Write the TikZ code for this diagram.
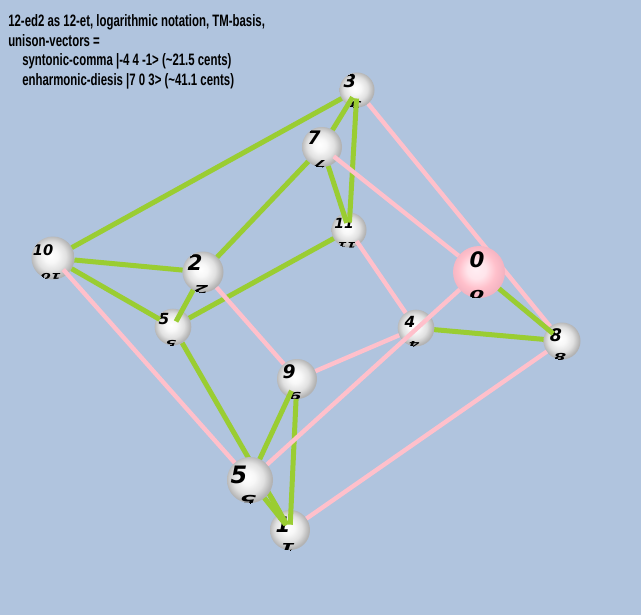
\documentclass[tikz,border=0pt]{standalone}
\usepackage{fontspec}
\usetikzlibrary{calc}
\newfontfamily\hdrfont[FakeStretch=0.69]{Liberation Sans}
\newfontfamily\numfont{DejaVu Sans}
\definecolor{bgc}{HTML}{B0C4DE}
\definecolor{grn}{HTML}{9ACD32}
\definecolor{pnk}{HTML}{FFC0CB}
\definecolor{pkin}{HTML}{FFEEF3}
\definecolor{pkout}{HTML}{F4B4C2}
\pgfdeclareradialshading{sphw}{\pgfpoint{-3bp}{3bp}}{color(0bp)=(white); color(8bp)=(white!97!black); color(17bp)=(white!88!black); color(25bp)=(white!70!black); color(50bp)=(white!64!black)}
\pgfdeclareradialshading{sphp}{\pgfpoint{-3bp}{3bp}}{color(0bp)=(pkin); color(9bp)=(pkin!80!pnk); color(18bp)=(pnk); color(25bp)=(pkout); color(50bp)=(pkout)}
\pgfdeclarelayer{bgl}
\pgfdeclarelayer{back}
\pgfsetlayers{bgl,back,main}
\tikzset{
  ball/.style n args={5}{circle, draw=none, inner sep=0pt, outer sep=0pt,
    minimum size=#2*1.5pt, shading=#5,
    path picture={
      \node[font=\numfont\bfseries\itshape\fontsize{#4}{#4}\selectfont, inner sep=0pt]
        at ([shift={(#3)}]path picture bounding box.center) {#1};
      \node[font=\numfont\bfseries\itshape\fontsize{#4}{#4}\selectfont, inner sep=0pt, rotate=180, yscale=0.55]
        at ([shift={(-2,{0.88*#2})}]path picture bounding box.center) {#1};
    }},
  gline/.style={grn, line width=3.75pt},
  pline/.style={pnk, line width=3.3pt},
  hdr/.style={anchor=base west, inner sep=0pt, font=\hdrfont\bfseries\fontsize{12.4}{13}\selectfont}
}
\begin{document}
\begin{tikzpicture}[x=0.75pt,y=-0.75pt]
\useasboundingbox (0,0) rectangle (641,615);
\begin{pgfonlayer}{bgl}
\fill[bgc] (0,0) rectangle (641,615);
\end{pgfonlayer}

\node[hdr] (t1) at (8,26.5) {12-ed2 as 12-et, logarithmic notation, TM-basis,};
\node[hdr] (t2) at (8,46) {unison-vectors =};
\node[hdr] (t3) at (22,65.5) {syntonic-comma |-4 4 -1> (\textasciitilde21.5 cents)};
\node[hdr] (t4) at (22,85) {enharmonic-diesis |7 0 3> (\textasciitilde41.1 cents)};

% spheres
\node[ball={3}{17.5}{-7,-9}{13.5}{sphw}] (n3) at (357,90) {};
\node[ball={7}{20}{-8,-9}{14}{sphw}] (n7) at (322,147) {};
\node[ball={11}{17.5}{-5,-7}{10.5}{sphw}] (n11) at (349,230) {};
\node[ball={10}{21.5}{-10,-8}{11}{sphw}] (n10) at (53,258) {};
\node[ball={2}{20.5}{-8,-9}{16}{sphw}] (n2) at (203,272) {};
\node[ball={5}{18.3}{-9,-8}{11.5}{sphw}] (n5a) at (173,327) {};
\node[ball={0}{26}{-2,-12}{16}{sphp}] (n0) at (479,272) {};
\node[ball={4}{18.3}{-6,-6}{11.5}{sphw}] (n4) at (416,328) {};
\node[ball={8}{18.5}{-6,-6}{13}{sphw}] (n8) at (562,341) {};
\node[ball={9}{20}{-8,-7}{14}{sphw}] (n9) at (297,379) {};
\node[ball={5}{23}{-11,-5}{18}{sphw}] (n5b) at (250,480) {};
\node[ball={1}{20}{-7,-5}{16}{sphw}] (n1) at (290,530) {};

% edges passing behind spheres
\begin{pgfonlayer}{back}
\draw[pline] (n3) -- (n8);
\draw[gline] (n5a) -- (n1);
\end{pgfonlayer}
\coordinate (m51) at ($(n5a)!0.83!(n1)$);
\draw[gline, shorten >=-10.5pt] (m51) -- (n1);

% green edges
\draw[gline] (n10) -- (n3);
\draw[gline, shorten <=-6.75pt] (n3) -- (n7);
\draw[gline, shorten <=-6.75pt, shorten >=-7.5pt] (n3) -- (n11);
\draw[gline, shorten >=-7.5pt] (n7) -- (n11);
\draw[gline] (n7) -- (n2);
\draw[gline] (n10) -- (n2);
\draw[gline, shorten >=-2.25pt] (n10) -- (n5a);
\draw[gline, shorten >=-9pt] (n2) -- (n5a);
\draw[gline] (n5a) -- (n11);
\draw[gline, shorten >=-9.75pt] (n5b) -- (n1);
\draw[gline, shorten <=-5.25pt] (n9) -- (n5b);
\draw[gline, shorten >=-11pt] (n9) -- (n1);
\draw[gline, shorten >=-5.25pt] (n0) -- (n8);
\draw[gline] (n4) -- (n8);

% pink edges
\draw[pline, shorten <=-3.75pt] (n7) -- (n0);
\draw[pline, shorten <=-3pt] (n11) -- (n4);
\draw[pline, shorten <=-4.5pt] (n10) -- (n5b);
\draw[pline] (n2) -- (n9);
\draw[pline] (n9) -- (n4);
\draw[pline] (n5b) -- (n0);
\draw[pline] (n8) -- (n1);
\end{tikzpicture}
\end{document}
